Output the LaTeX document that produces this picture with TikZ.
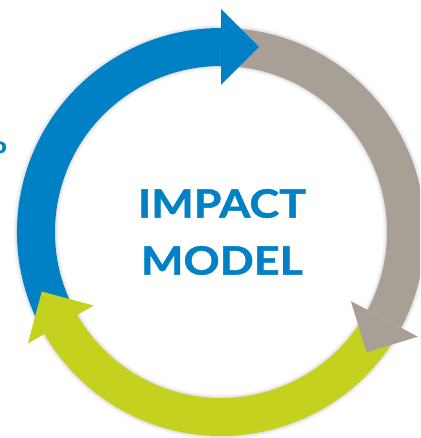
\documentclass[tikz,border=0pt]{standalone}
\usepackage{fontspec}
\newfontfamily\latofont[FakeStretch=1.15, FakeBold=1.2]{Lato}
\usetikzlibrary{calc}
\definecolor{impactBlue}{RGB}{0,129,198}
\definecolor{impactGray}{RGB}{168,159,151}
\definecolor{impactGreen}{RGB}{196,210,31}
\tikzstyle{band} = [line width=38pt]
\tikzstyle{glow} = [line width=42pt, draw=black, opacity=0.04]
\tikzstyle{titleText} = [align=center, text=impactBlue, inner sep=0pt,
                         font=\latofont\bfseries\fontsize{39}{57}\selectfont]
\tikzstyle{edgeText} = [text=impactBlue, inner sep=0pt, anchor=base east,
                        font=\latofont\bfseries\fontsize{22}{26}\selectfont]
\newcommand{\impactHead}[2]{%
  \fill[#1] (#2:147) -- (#2:223) -- ($(#2:185)+(#2-90:38)$) -- cycle;}

\begin{document}
\begin{tikzpicture}[x=1pt, y=1pt]
    \useasboundingbox (-221,-206) rectangle (199,232);
    \clip (-221,-206) rectangle (199,232);
    \draw [glow, line width=45pt] (0,0) circle (185);
    \draw [glow] (0,0) circle (185);
    \draw [glow, line width=40pt] (0,0) circle (185);
    \draw [band, impactBlue] (210:185) arc [start angle=210, end angle=90, radius=185];
    \draw [band, impactGray] (90:185) arc [start angle=90, end angle=-28, radius=185];
    \draw [band, impactGreen] (-28:185) arc [start angle=-28, end angle=-150, radius=185];
    \impactHead{impactBlue}{90}
    \impactHead{impactGray}{-28}
    \impactHead{impactGreen}{210}
    \node (title) [titleText] at (1,0) {IMPACT\\MODEL};
    \node (cut) [edgeText] at (-214,79) {o};
\end{tikzpicture}
\end{document}
